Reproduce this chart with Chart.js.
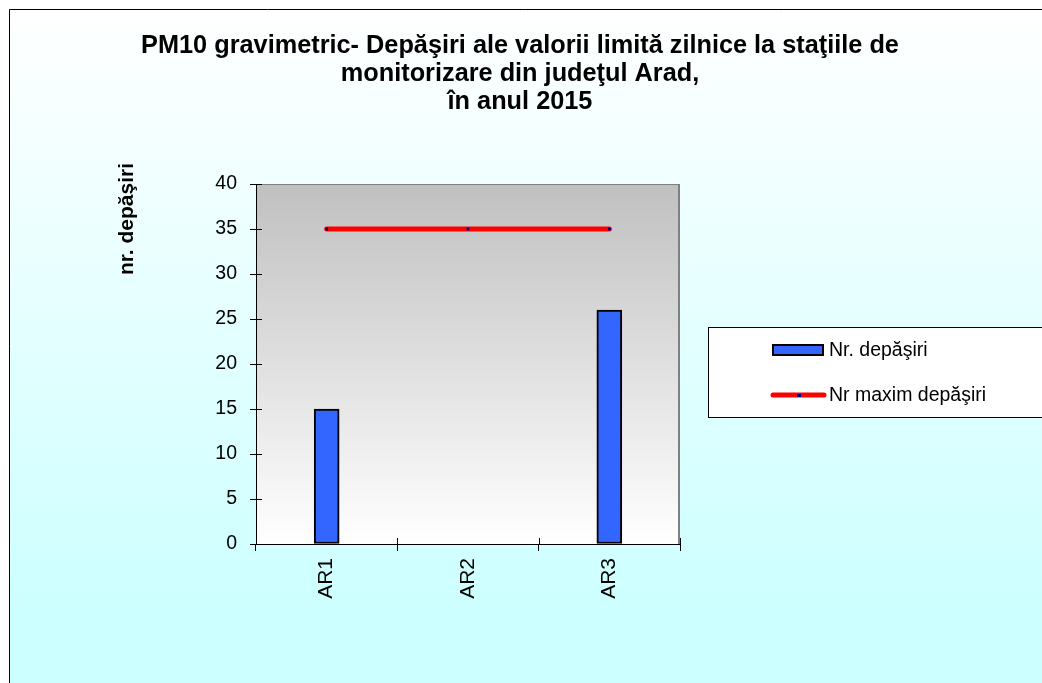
<!DOCTYPE html>
<html>
<head>
<meta charset="utf-8">
<script src="https://cdn.jsdelivr.net/npm/chart.js@4/dist/chart.umd.min.js"></script>
<style>
html,body{margin:0;padding:0;background:#fff;}
canvas{display:block;}
</style>
</head>
<body>
<canvas id="c" width="1042" height="683"></canvas>
<script>
const categories = ["AR1", "AR2", "AR3"];
const exceedances = [15, 0, 26];
const maxAllowed = [35, 35, 35];
const titleLines = ["PM10 gravimetric- Depăşiri ale valorii limită zilnice la staţiile de", "monitorizare din judeţul Arad,", "în anul 2015"];
const yAxisTitle = "nr. depăşiri";
const seriesNames = ["Nr. depăşiri", "Nr maxim depăşiri"];
const yTickValues = [0, 5, 10, 15, 20, 25, 30, 35, 40];

const FONT = '"Liberation Sans", Arial, sans-serif';
const BAR_COLOR = '#3366ff';

const decor = {
  id: 'decor',
  beforeDraw(chart) {
    const ctx = chart.ctx;
    const W = chart.width, H = chart.height;
    ctx.save();
    ctx.fillStyle = '#ffffff';
    ctx.fillRect(0, 0, W, H);
    const g = ctx.createLinearGradient(0, 10, 0, 620);
    g.addColorStop(0, '#ffffff');
    g.addColorStop(1, '#ccffff');
    ctx.fillStyle = g;
    ctx.fillRect(10, 10, W - 10, H - 10);
    ctx.strokeStyle = '#000000';
    ctx.lineWidth = 1;
    ctx.beginPath();
    ctx.moveTo(9.5, H);
    ctx.lineTo(9.5, 9.5);
    ctx.lineTo(W, 9.5);
    ctx.stroke();
    const a = chart.chartArea;
    const pg = ctx.createLinearGradient(0, a.top, 0, a.bottom);
    pg.addColorStop(0, '#c0c0c0');
    pg.addColorStop(1, '#ffffff');
    ctx.fillStyle = pg;
    ctx.fillRect(a.left, a.top, a.right - a.left, a.bottom - a.top);
    ctx.strokeStyle = '#808080';
    ctx.lineWidth = 1;
    ctx.beginPath();
    ctx.moveTo(a.left, a.top + 0.5);
    ctx.lineTo(a.right, a.top + 0.5);
    ctx.stroke();
    ctx.lineWidth = 2;
    ctx.beginPath();
    ctx.moveTo(a.right - 1, a.top);
    ctx.lineTo(a.right - 1, a.bottom);
    ctx.stroke();
    // title
    ctx.fillStyle = '#000000';
    ctx.font = 'bold 25.3px ' + FONT;
    ctx.textAlign = 'center';
    ctx.textBaseline = 'alphabetic';
    const ty = [53, 81, 109];
    titleLines.forEach((t, i) => ctx.fillText(t, 520, ty[i]));
    // y axis title
    ctx.save();
    ctx.translate(127, 219);
    ctx.rotate(-Math.PI / 2);
    ctx.textBaseline = 'middle';
    ctx.font = 'bold 21px ' + FONT;
    ctx.fillText(yAxisTitle, 0, 0);
    ctx.restore();
    // legend
    ctx.fillStyle = '#ffffff';
    ctx.fillRect(708, 327, W - 708, 90);
    ctx.strokeStyle = '#000000';
    ctx.lineWidth = 1;
    ctx.strokeRect(708.5, 327.5, W - 708, 90);
    const ds = chart.data.datasets;
    ctx.fillStyle = BAR_COLOR;
    ctx.fillRect(773, 345, 50, 10);
    ctx.lineWidth = 2;
    ctx.strokeStyle = '#000000';
    ctx.strokeRect(773, 345, 50, 10);
    ctx.strokeStyle = ds[1].borderColor;
    ctx.lineWidth = 5;
    ctx.lineCap = 'round';
    ctx.beginPath();
    ctx.moveTo(773, 395);
    ctx.lineTo(824, 395);
    ctx.stroke();
    ctx.fillStyle = ds[1].pointBackgroundColor;
    ctx.fillRect(797, 394, 4, 3);
    ctx.fillStyle = '#000000';
    ctx.font = '19.5px ' + FONT;
    ctx.textAlign = 'left';
    ctx.textBaseline = 'alphabetic';
    ctx.fillText(ds[0].label, 829, 356);
    ctx.fillText(ds[1].label, 829, 401);
    ctx.restore();
  },
  beforeDatasetsDraw(chart) {
    // inner halves of the cross-style tick marks
    const ctx = chart.ctx;
    const a = chart.chartArea;
    const ys = chart.scales.y;
    ctx.save();
    ctx.strokeStyle = '#000000';
    ctx.lineWidth = 1;
    ctx.beginPath();
    yTickValues.forEach(v => {
      const py = Math.round(ys.getPixelForValue(v)) + 0.5;
      ctx.moveTo(a.left, py);
      ctx.lineTo(a.left + 6, py);
    });
    const n = categories.length;
    for (let i = 0; i <= n; i++) {
      const px = Math.round(a.left + i * (a.right - a.left) / n) + 0.5;
      ctx.moveTo(px, a.bottom);
      ctx.lineTo(px, a.bottom - 6);
    }
    ctx.stroke();
    ctx.restore();
  }
};

new Chart(document.getElementById('c'), {
  data: {
    labels: categories,
    datasets: [
      {
        type: 'bar',
        label: seriesNames[0],
        data: exceedances,
        backgroundColor: (c) => (c.raw ? BAR_COLOR : 'rgba(0,0,0,0)'),
        borderColor: '#000000',
        borderWidth: (c) => (c.raw ? 2 : 0),
        borderSkipped: false,
        barThickness: 25,
        order: 2
      },
      {
        type: 'line',
        label: seriesNames[1],
        data: maxAllowed,
        borderColor: '#ff0000',
        borderWidth: 5,
        borderCapStyle: 'round',
        pointStyle: 'rect',
        pointRadius: 2,
        pointBackgroundColor: '#000080',
        pointBorderColor: '#000080',
        pointBorderWidth: 0,
        fill: false,
        order: 1
      }
    ]
  },
  options: {
    responsive: false,
    animation: false,
    devicePixelRatio: 1,
    layout: { padding: { left: 196, right: 362, top: 184, bottom: 39 } },
    plugins: {
      legend: { display: false },
      title: { display: false },
      tooltip: { enabled: false }
    },
    scales: {
      x: {
        type: 'category',
        offset: true,
        afterFit: (s) => { s.height = 100; },
        grid: { offset: true, drawOnChartArea: false, drawTicks: true, tickLength: 7, color: '#000000' },
        border: { color: '#000000', width: 1 },
        ticks: { maxRotation: 90, minRotation: 90, padding: 7, color: '#000000', font: { family: FONT, size: 21 } }
      },
      y: {
        min: 0,
        max: 40,
        afterFit: (s) => { s.width = 60; },
        afterBuildTicks: (s) => { s.ticks = yTickValues.map(v => ({ value: v })); },
        grid: { drawOnChartArea: false, drawTicks: true, tickLength: 6, color: '#000000' },
        border: { color: '#000000', width: 1 },
        ticks: { padding: 13, color: '#000000', font: { family: FONT, size: 19.5 } }
      }
    }
  },
  plugins: [decor]
});
</script>
</body>
</html>
